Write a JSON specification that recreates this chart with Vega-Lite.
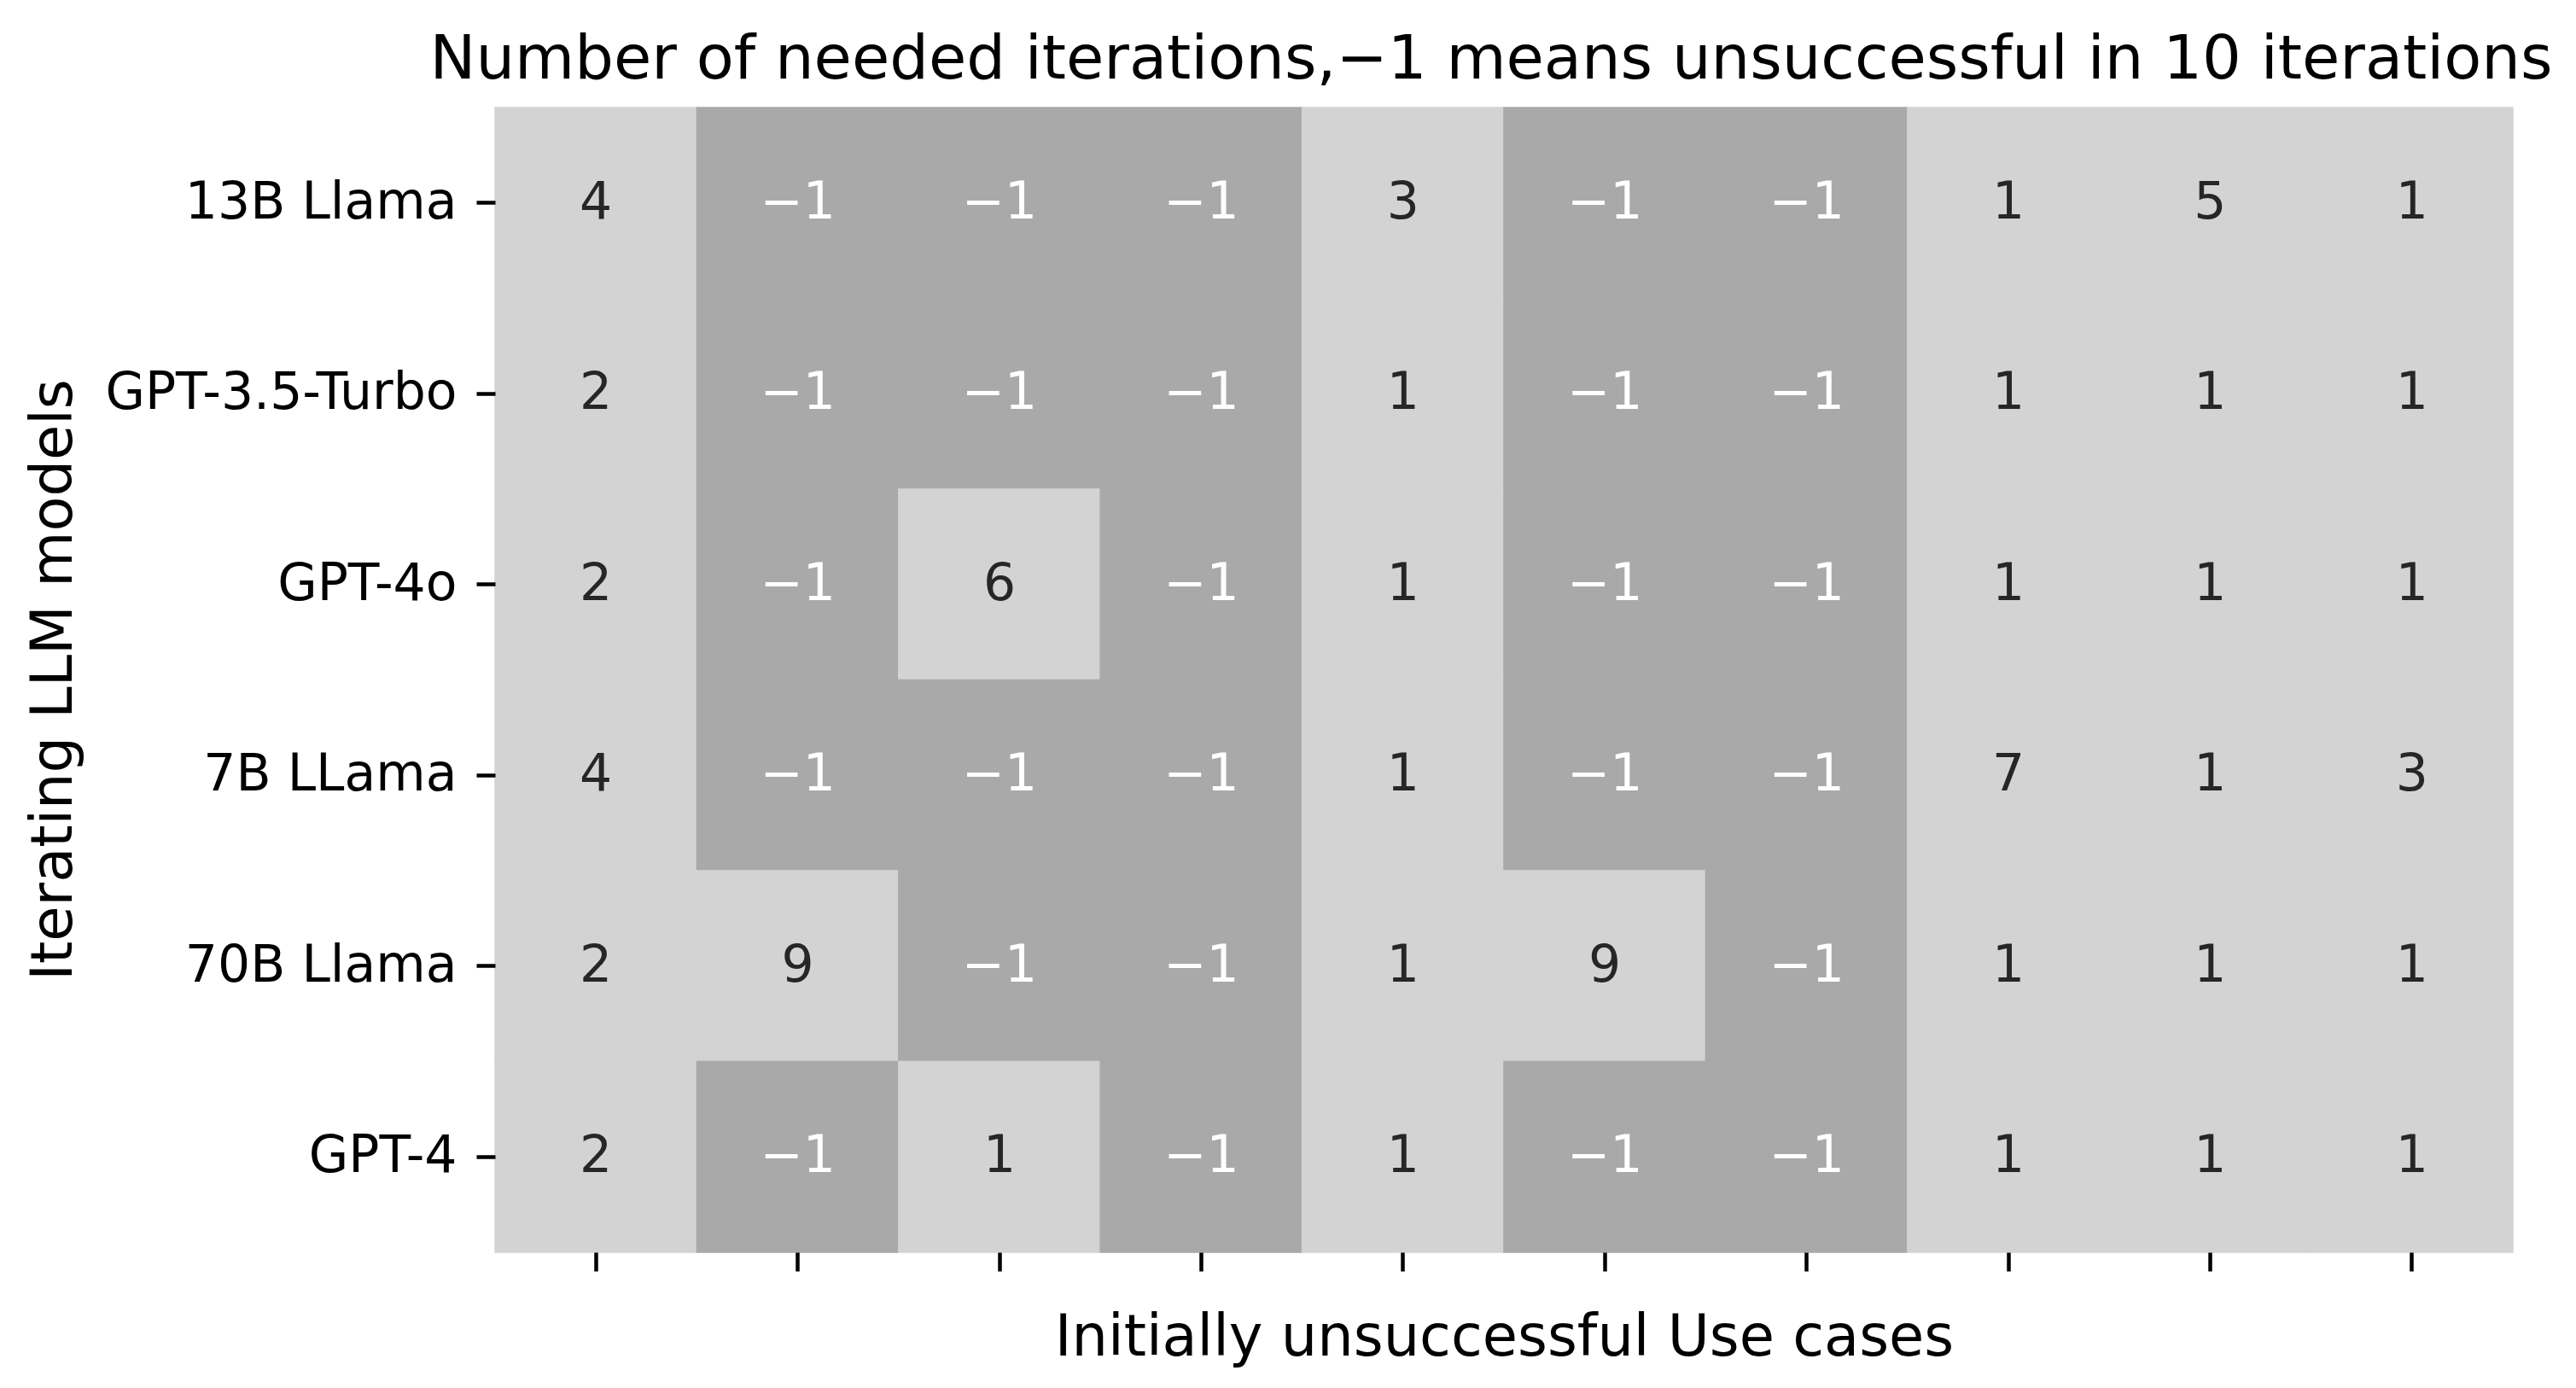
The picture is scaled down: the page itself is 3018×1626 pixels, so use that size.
{
  "$schema": "https://vega.github.io/schema/vega-lite/v6.json",
  "autosize": "none",
  "width": 2364,
  "height": 1341,
  "padding": {"left": 580, "top": 126, "right": 74, "bottom": 159},
  "background": "white",
  "config": {"view": {"stroke": null}, "font": "DejaVu Sans"},
  "title": {
    "text": "Number of needed iterations,−1 means unsuccessful in 10 iterations",
    "font": "DejaVu Sans",
    "fontSize": 72,
    "fontWeight": "normal",
    "color": "black",
    "anchor": "middle",
    "baseline": "alphabetic",
    "offset": -39,
    "dx": -15,
    "limit": 3018
  },
  "data": {
    "values": [
      {"model": "13B Llama", "case": 1, "iterations": 4},
      {"model": "13B Llama", "case": 2, "iterations": -1},
      {"model": "13B Llama", "case": 3, "iterations": -1},
      {"model": "13B Llama", "case": 4, "iterations": -1},
      {"model": "13B Llama", "case": 5, "iterations": 3},
      {"model": "13B Llama", "case": 6, "iterations": -1},
      {"model": "13B Llama", "case": 7, "iterations": -1},
      {"model": "13B Llama", "case": 8, "iterations": 1},
      {"model": "13B Llama", "case": 9, "iterations": 5},
      {"model": "13B Llama", "case": 10, "iterations": 1},
      {"model": "GPT-3.5-Turbo", "case": 1, "iterations": 2},
      {"model": "GPT-3.5-Turbo", "case": 2, "iterations": -1},
      {"model": "GPT-3.5-Turbo", "case": 3, "iterations": -1},
      {"model": "GPT-3.5-Turbo", "case": 4, "iterations": -1},
      {"model": "GPT-3.5-Turbo", "case": 5, "iterations": 1},
      {"model": "GPT-3.5-Turbo", "case": 6, "iterations": -1},
      {"model": "GPT-3.5-Turbo", "case": 7, "iterations": -1},
      {"model": "GPT-3.5-Turbo", "case": 8, "iterations": 1},
      {"model": "GPT-3.5-Turbo", "case": 9, "iterations": 1},
      {"model": "GPT-3.5-Turbo", "case": 10, "iterations": 1},
      {"model": "GPT-4o", "case": 1, "iterations": 2},
      {"model": "GPT-4o", "case": 2, "iterations": -1},
      {"model": "GPT-4o", "case": 3, "iterations": 6},
      {"model": "GPT-4o", "case": 4, "iterations": -1},
      {"model": "GPT-4o", "case": 5, "iterations": 1},
      {"model": "GPT-4o", "case": 6, "iterations": -1},
      {"model": "GPT-4o", "case": 7, "iterations": -1},
      {"model": "GPT-4o", "case": 8, "iterations": 1},
      {"model": "GPT-4o", "case": 9, "iterations": 1},
      {"model": "GPT-4o", "case": 10, "iterations": 1},
      {"model": "7B LLama", "case": 1, "iterations": 4},
      {"model": "7B LLama", "case": 2, "iterations": -1},
      {"model": "7B LLama", "case": 3, "iterations": -1},
      {"model": "7B LLama", "case": 4, "iterations": -1},
      {"model": "7B LLama", "case": 5, "iterations": 1},
      {"model": "7B LLama", "case": 6, "iterations": -1},
      {"model": "7B LLama", "case": 7, "iterations": -1},
      {"model": "7B LLama", "case": 8, "iterations": 7},
      {"model": "7B LLama", "case": 9, "iterations": 1},
      {"model": "7B LLama", "case": 10, "iterations": 3},
      {"model": "70B Llama", "case": 1, "iterations": 2},
      {"model": "70B Llama", "case": 2, "iterations": 9},
      {"model": "70B Llama", "case": 3, "iterations": -1},
      {"model": "70B Llama", "case": 4, "iterations": -1},
      {"model": "70B Llama", "case": 5, "iterations": 1},
      {"model": "70B Llama", "case": 6, "iterations": 9},
      {"model": "70B Llama", "case": 7, "iterations": -1},
      {"model": "70B Llama", "case": 8, "iterations": 1},
      {"model": "70B Llama", "case": 9, "iterations": 1},
      {"model": "70B Llama", "case": 10, "iterations": 1},
      {"model": "GPT-4", "case": 1, "iterations": 2},
      {"model": "GPT-4", "case": 2, "iterations": -1},
      {"model": "GPT-4", "case": 3, "iterations": 1},
      {"model": "GPT-4", "case": 4, "iterations": -1},
      {"model": "GPT-4", "case": 5, "iterations": 1},
      {"model": "GPT-4", "case": 6, "iterations": -1},
      {"model": "GPT-4", "case": 7, "iterations": -1},
      {"model": "GPT-4", "case": 8, "iterations": 1},
      {"model": "GPT-4", "case": 9, "iterations": 1},
      {"model": "GPT-4", "case": 10, "iterations": 1}
    ]
  },
  "encoding": {
    "x": {
      "field": "case",
      "type": "ordinal",
      "scale": {"paddingInner": 0, "paddingOuter": 0},
      "axis": {
        "title": "Initially unsuccessful Use cases",
        "labels": false,
        "domain": false,
        "grid": false,
        "ticks": true,
        "tickSize": 22,
        "tickWidth": 4.5,
        "tickColor": "black",
        "titleFont": "DejaVu Sans",
        "titleFontSize": 67,
        "titleFontWeight": "normal",
        "titleColor": "black",
        "titleX": 1182,
        "titleY": 120,
        "titleBaseline": "alphabetic",
        "titleAlign": "center"
      }
    },
    "y": {
      "field": "model",
      "type": "nominal",
      "sort": ["13B Llama", "GPT-3.5-Turbo", "GPT-4o", "7B LLama", "70B Llama", "GPT-4"],
      "scale": {"paddingInner": 0, "paddingOuter": 0},
      "axis": {
        "title": "Iterating LLM models",
        "domain": false,
        "grid": false,
        "ticks": true,
        "tickSize": 22,
        "tickWidth": 4.5,
        "tickColor": "black",
        "labelFont": "DejaVu Sans",
        "labelFontSize": 60,
        "labelColor": "black",
        "labelPadding": 23,
        "labelLimit": 1000,
        "titleFont": "DejaVu Sans",
        "titleFontSize": 67,
        "titleFontWeight": "normal",
        "titleColor": "black",
        "titleX": -497,
        "titleY": 670,
        "titleAngle": 270,
        "titleBaseline": "alphabetic",
        "titleAlign": "center"
      }
    }
  },
  "layer": [
    {
      "mark": {"type": "rect", "opacity": 1, "strokeWidth": 1.5},
      "encoding": {
        "color": {
          "condition": {"test": "datum.iterations < 0", "value": "#a9a9a9"},
          "value": "#d3d3d3"
        },
        "stroke": {
          "condition": {"test": "datum.iterations < 0", "value": "#a9a9a9"},
          "value": "#d3d3d3"
        }
      }
    },
    {
      "mark": {"type": "text", "font": "DejaVu Sans", "fontSize": 60, "baseline": "middle", "align": "center"},
      "encoding": {
        "text": {"field": "iterations", "type": "quantitative", "format": "d"},
        "color": {
          "condition": {"test": "datum.iterations < 0", "value": "#ffffff"},
          "value": "#262626"
        }
      }
    }
  ]
}
